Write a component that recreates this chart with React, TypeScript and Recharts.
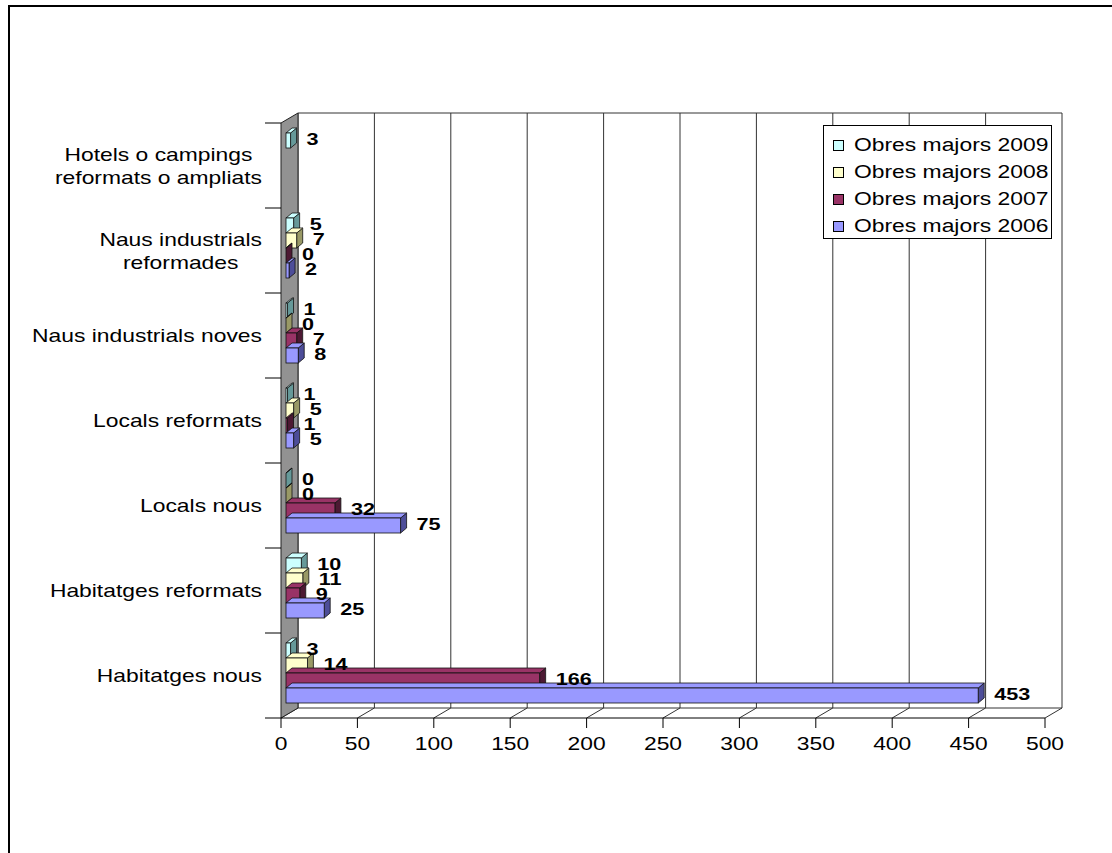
import React from 'react';
import {
  BarChart,
  Bar,
  XAxis,
  YAxis,
  CartesianGrid,
  ReferenceArea,
  Legend,
  LabelList,
} from 'recharts';

// categories top to bottom, as the chart shows them
const CATEGORIES = [
  'Hotels o campings\nreformats o ampliats',
  'Naus industrials\nreformades',
  'Naus industrials noves',
  'Locals reformats',
  'Locals nous',
  'Habitatges reformats',
  'Habitatges nous',
];
const OBRES_2009 = [3, 5, 1, 1, 0, 10, 3];
const OBRES_2008 = [null, 7, 0, 5, 0, 11, 14];
const OBRES_2007 = [null, 0, 7, 1, 32, 9, 166];
const OBRES_2006 = [null, 2, 8, 5, 75, 25, 453];
const X_TICKS = [0, 50, 100, 150, 200, 250, 300, 350, 400, 450, 500];

const SERIES = [
  { key: 'y2009', name: 'Obres majors 2009', values: OBRES_2009, fill: '#CCFFFF', side: '#669999' },
  { key: 'y2008', name: 'Obres majors 2008', values: OBRES_2008, fill: '#FFFFCC', side: '#999966' },
  { key: 'y2007', name: 'Obres majors 2007', values: OBRES_2007, fill: '#993366', side: '#4D1933' },
  { key: 'y2006', name: 'Obres majors 2006', values: OBRES_2006, fill: '#9999FF', side: '#4D4D99' },
];

const data = CATEGORIES.map((name, i) => {
  const row: Record<string, any> = { name };
  SERIES.forEach((s) => (row[s.key] = s.values[i]));
  return row;
});

const FONT = "'Liberation Sans', Arial, sans-serif";
const FONT_SIZE = 18;
const STRETCH = 1.27; // the original picture is stretched sideways
const DX = 17; // wall depth
const DY = -10;
const BDX = 6; // bar depth
const BDY = -5;
const SHIFT_X = 5; // bars sit a little behind the front plane
const SHIFT_Y = -3;
const LINE = '#333';

let ctx: CanvasRenderingContext2D | null = null;
function textWidth(s: string, bold = false) {
  if (!ctx) ctx = document.createElement('canvas').getContext('2d');
  if (!ctx) return s.length * 10;
  ctx.font = `${bold ? 'bold ' : ''}${FONT_SIZE}px 'Liberation Sans'`;
  return ctx.measureText(s).width * STRETCH;
}

function SText({ x, y, anchor = 'start', bold = false, size = FONT_SIZE, children }: any) {
  return (
    <text
      transform={`translate(${x},${y}) scale(${STRETCH},1)`}
      textAnchor={anchor}
      fontFamily={FONT}
      fontSize={size}
      fontWeight={bold ? 'bold' : 'normal'}
      fill="#000"
    >
      {children}
    </text>
  );
}

const YTick = ({ x, y, payload }: any) => {
  const lines = String(payload.value).split('\n');
  const maxW = Math.max(...lines.map((l) => textWidth(l)));
  const cx = x - 19 - maxW / 2;
  return (
    <g>
      {lines.map((l, i) => (
        <SText key={i} x={cx} y={y + (i - (lines.length - 1) / 2) * 23 + 6.5} anchor="middle">
          {l}
        </SText>
      ))}
    </g>
  );
};

const XTick = ({ x, y, payload }: any) => (
  <SText x={x} y={y + 20} anchor="middle">
    {payload.value}
  </SText>
);

const GridLine = (p: any) => (
  <g key={p.key}>
    <line x1={p.x1 + DX} y1={p.y1 + DY} x2={p.x1 + DX} y2={p.y2 + DY} stroke={LINE} />
    <line x1={p.x1} y1={p.y2} x2={p.x1 + DX} y2={p.y2 + DY} stroke={LINE} />
  </g>
);

const Frame = ({ x, y, width, height }: any) => {
  const n = CATEGORIES.length;
  return (
    <g>
      <polygon
        points={`${x},${y} ${x + DX},${y + DY} ${x + DX},${y + height + DY} ${x},${y + height}`}
        fill="#929292"
        stroke="#222"
      />
      <line x1={x + DX} y1={y + DY} x2={x + width + DX} y2={y + DY} stroke={LINE} />
      <line x1={x + DX} y1={y + height + DY} x2={x + width + DX} y2={y + height + DY} stroke={LINE} />
      {Array.from({ length: n + 1 }, (_, i) => (
        <line key={i} x1={x - 16} y1={y + (i * height) / n} x2={x} y2={y + (i * height) / n} stroke="#000" />
      ))}
    </g>
  );
};

const makeShape = (s: any) => (props: any) => {
  const { x, y, width, height, payload } = props;
  if (!payload || payload[s.key] == null) return <g />;
  const fx = x + SHIFT_X;
  const fy = y + SHIFT_Y;
  const w = Math.max(0, width);
  const h = height;
  return (
    <g>
      <polygon
        points={`${fx + w},${fy} ${fx + w + BDX},${fy + BDY} ${fx + w + BDX},${fy + h + BDY} ${fx + w},${fy + h}`}
        fill={s.side}
        stroke="#111"
        strokeWidth={0.8}
      />
      <polygon
        points={`${fx},${fy} ${fx + BDX},${fy + BDY} ${fx + w + BDX},${fy + BDY} ${fx + w},${fy}`}
        fill={s.fill}
        stroke="#111"
        strokeWidth={0.8}
      />
      <rect x={fx} y={fy} width={w} height={h} fill={s.fill} stroke="#111" strokeWidth={0.8} />
    </g>
  );
};

const renderLabel = (props: any) => {
  const v = props.value;
  if (v == null) return null;
  const vb = props.viewBox && props.viewBox.width != null ? props.viewBox : props;
  const tx = vb.x + vb.width + SHIFT_X + BDX + 10;
  const ty = vb.y + vb.height / 2 + SHIFT_Y + 4;
  return (
    <SText x={tx} y={ty} bold size={17}>
      {v}
    </SText>
  );
};

const LegendBox = ({ payload }: any) => {
  const items = [...(payload || [])].sort(
    (a, b) =>
      SERIES.findIndex((s) => s.name === a.value) - SERIES.findIndex((s) => s.name === b.value)
  );
  return (
    <div
      style={{
        width: 229,
        height: 114,
        boxSizing: 'border-box',
        border: '1px solid #000',
        background: '#fff',
        paddingTop: 6,
        paddingLeft: 9,
      }}
    >
      {items.map((it: any) => (
        <div key={it.value} style={{ height: 27, display: 'flex', alignItems: 'center' }}>
          <span
            style={{
              width: 9,
              height: 9,
              border: '1px solid #000',
              background: it.color,
              marginRight: 10,
              flex: 'none',
            }}
          />
          <span
            style={{
              display: 'inline-block',
              fontFamily: FONT,
              fontSize: FONT_SIZE,
              transform: `scaleX(${STRETCH})`,
              transformOrigin: 'left center',
              whiteSpace: 'nowrap',
              lineHeight: '27px',
            }}
          >
            {it.value}
          </span>
        </div>
      ))}
    </div>
  );
};

export default function App() {
  return (
    <div style={{ position: 'relative', width: 1112, height: 853 }}>
      <style>{'body{margin:0;overflow:hidden}'}</style>
      <div
        style={{
          position: 'absolute',
          left: 8,
          top: 5,
          width: 1120,
          height: 870,
          borderTop: '2px solid #000',
          borderLeft: '2px solid #000',
        }}
      />
      <div style={{ position: 'absolute', left: 8, top: 5 }}>
        <BarChart
          width={1104}
          height={848}
          data={data}
          layout="vertical"
          barGap={0}
          margin={{ top: 118, right: 67, bottom: 95, left: 0 }}
        >
          <ReferenceArea x1={0} x2={500} ifOverflow="visible" shape={Frame} />
          <CartesianGrid horizontal={false} vertical={GridLine} />
          <XAxis
            type="number"
            domain={[0, 500]}
            ticks={X_TICKS}
            interval={0}
            tickSize={10}
            height={40}
            stroke="#000"
            tick={XTick}
          />
          <YAxis
            type="category"
            dataKey="name"
            width={273}
            interval={0}
            tickSize={0}
            tickMargin={0}
            axisLine={false}
            tickLine={false}
            tick={YTick}
          />
          <Legend
            layout="vertical"
            align="center"
            verticalAlign="middle"
            wrapperStyle={{ left: 815, top: 120, width: 229, height: 114 }}
            content={LegendBox}
          />
          {SERIES.map((s) => (
            <Bar
              key={s.key}
              dataKey={s.key}
              name={s.name}
              fill={s.fill}
              barSize={15}
              isAnimationActive={false}
              shape={makeShape(s)}
            >
              <LabelList dataKey={s.key} content={renderLabel} />
            </Bar>
          ))}
        </BarChart>
      </div>
    </div>
  );
}
